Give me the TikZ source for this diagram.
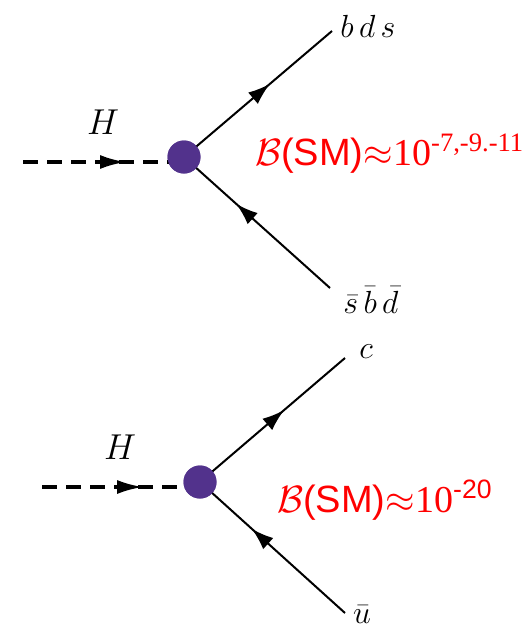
\RequirePackage{fix-cm}
\documentclass[tikz,border=0pt]{standalone}
\usepackage{amsmath}
\usepackage{fontspec}
\newfontfamily\lsans{Liberation Sans}
\newfontfamily\lserif{Liberation Serif}
\usetikzlibrary{arrows.meta,positioning,calc,decorations.markings}

\definecolor{vtxpurple}{RGB}{82,50,140}
\tikzset{
  vertex/.style={circle, fill=vtxpurple, inner sep=0pt, minimum size=33pt},
  scalar/.style={dashed, dash pattern=on 15pt off 9pt, line width=3.4pt,
    postaction={decorate}, decoration={markings, mark=at position 0.64 with {\arrow{Latex[length=26pt,width=14pt]}}}},
  fermion/.style={line width=2pt, postaction={decorate},
    decoration={markings, mark=at position 0.58 with {\arrow{Latex[length=22pt,width=15pt]}}}},
  antifermion/.style={line width=2pt, postaction={decorate},
    decoration={markings, mark=at position 0.47 with {\arrow{Latex[length=22pt,width=15pt,reversed]}}}},
  plabel/.style={inner sep=0pt, font=\fontsize{32}{36}\selectfont},
  bratio/.style={inner sep=0pt, anchor=west, text=red, font=\fontsize{38}{42}\selectfont\lserif}
}

\begin{document}
\begin{tikzpicture}[x=1pt, y=-1pt]
\useasboundingbox (0,0) rectangle (531,630);
% top diagram
\node[vertex] (v1) at (184,157) {};
\coordinate (h1) at (23,162);
\coordinate (q1) at (332,31);
\coordinate (qb1) at (330,288);
\draw[scalar] (h1) -- (h1 -| v1);
\draw[fermion] (v1.center) -- (q1);
\draw[antifermion] (v1.center) -- (qb1);
\node[vertex] at (v1) {};
\node[plabel, font=\fontsize{36}{40}\selectfont] (hl1) at (103,122) {$H$};
\node[plabel] (ql1) at (368,26) {$b\,d\,s$};
\node[plabel] (qbl1) at (371,300) {$\bar{s}\,\bar{b}\,\bar{d}$};
\node[bratio] (br1) at (255,154) {$\mathcal{B}${\lsans(SM)}$\approx${\lserif 10}$^{\text{\lserif-7,-9.-11}}$};
% bottom diagram
\node[vertex] (v2) at (200,482) {};
\coordinate (h2) at (42,487);
\coordinate (q2) at (345,358);
\coordinate (qb2) at (345,613);
\draw[scalar] (h2) -- (h2 -| v2);
\draw[fermion] (v2.center) -- (q2);
\draw[antifermion] (v2.center) -- (qb2);
\node[vertex] at (v2) {};
\node[plabel, font=\fontsize{36}{40}\selectfont] (hl2) at (120,447) {$H$};
\node[plabel] (ql2) at (366,352) {$c$};
\node[plabel] (qbl2) at (362,615) {$\bar{u}$};
\node[bratio] (br2) at (277,500) {$\mathcal{B}${\lsans(SM)}$\approx${\lserif 10}$^{\text{\lsans-20}}$};
\end{tikzpicture}
\end{document}
